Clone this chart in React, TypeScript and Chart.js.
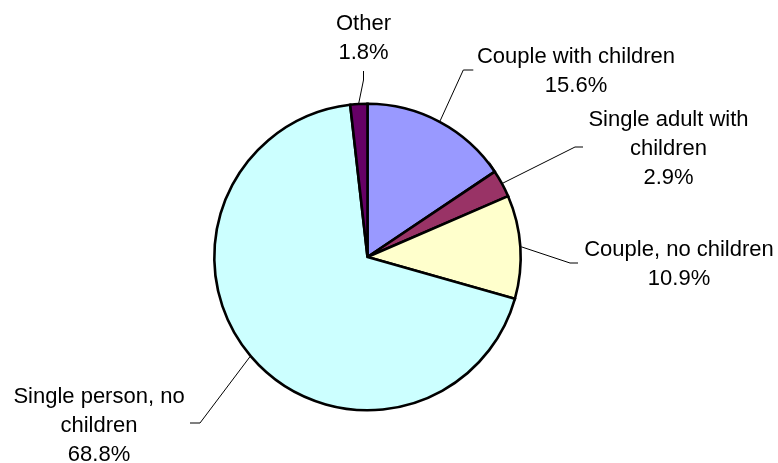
import React, { useEffect, useRef } from "react";
import { Chart, registerables } from "chart.js";

Chart.register(...registerables);

const categories = [
  "Couple with children",
  "Single adult with children",
  "Couple, no children",
  "Single person, no children",
  "Other",
];
const values = [15.6, 2.9, 10.9, 68.8, 1.8];
const valueLabels = ["15.6%", "2.9%", "10.9%", "68.8%", "1.8%"];
const labelLines = [
  ["Couple with children"],
  ["Single adult with", "children"],
  ["Couple, no children"],
  ["Single person, no", "children"],
  ["Other"],
];
const colors = ["#9999FF", "#993366", "#FFFFCC", "#CCFFFF", "#660066"];

// Label layout (text centre x, first baseline y, leader elbow, leader end)
const labelLayout = [
  { x: 576, y: 62.5, elbow: [463.3, 70], end: [473.3, 70] },
  { x: 668.5, y: 125.5, elbow: [575, 147], end: [583, 147] },
  { x: 679, y: 256, elbow: [570, 263], end: [578, 263] },
  { x: 99, y: 403, elbow: [200, 423], end: [190, 423] },
  { x: 363.5, y: 29.5, elbow: [363.5, 80], end: [363.5, 71] },
];

const LINE_H = 29;
const FONT = '22px "Liberation Sans", Arial, sans-serif';

const labelPlugin = {
  id: "outerLabels",
  afterDraw(chart: any) {
    const ctx = chart.ctx;
    const meta = chart.getDatasetMeta(0);
    ctx.save();
    ctx.strokeStyle = "#000";
    ctx.lineWidth = 1;
    meta.data.forEach((arc: any, i: number) => {
      const props = arc.getProps(["x", "y", "startAngle", "endAngle", "outerRadius"], true);
      const mid = (props.startAngle + props.endAngle) / 2;
      const r = props.outerRadius + 1;
      const sx = props.x + Math.cos(mid) * r;
      const sy = props.y + Math.sin(mid) * r;
      const lay = labelLayout[i];
      ctx.beginPath();
      ctx.moveTo(sx, sy);
      ctx.lineTo(lay.elbow[0], lay.elbow[1]);
      ctx.lineTo(lay.end[0], lay.end[1]);
      ctx.stroke();

      ctx.fillStyle = "#000";
      ctx.font = FONT;
      ctx.textAlign = "center";
      ctx.textBaseline = "alphabetic";
      const lines = [...labelLines[i], valueLabels[i]];
      lines.forEach((t, k) => {
        ctx.fillText(t, lay.x, lay.y + k * LINE_H);
      });
    });
    ctx.restore();
  },
};

export default function App() {
  const ref = useRef<HTMLCanvasElement | null>(null);
  useEffect(() => {
    if (!ref.current) return;
    const chart = new Chart(ref.current, {
      type: "pie",
      data: {
        labels: categories,
        datasets: [
          {
            data: values,
            backgroundColor: colors,
            borderColor: "#000",
            borderWidth: 2.6,
            borderJoinStyle: "miter",
          },
        ],
      },
      options: {
        responsive: false,
        animation: false,
        rotation: 0,
        layout: { padding: { left: 213, right: 256, top: 102.5, bottom: 51.5 } },
        plugins: {
          legend: { display: false },
          tooltip: { enabled: false },
        },
      },
      plugins: [labelPlugin],
    });
    return () => chart.destroy();
  }, []);
  return (
    <div style={{ position: "absolute", left: 0, top: 0, width: 778, height: 463, background: "#fff" }}>
      <canvas ref={ref} width={778} height={463} style={{ display: "block" }} />
    </div>
  );
}
